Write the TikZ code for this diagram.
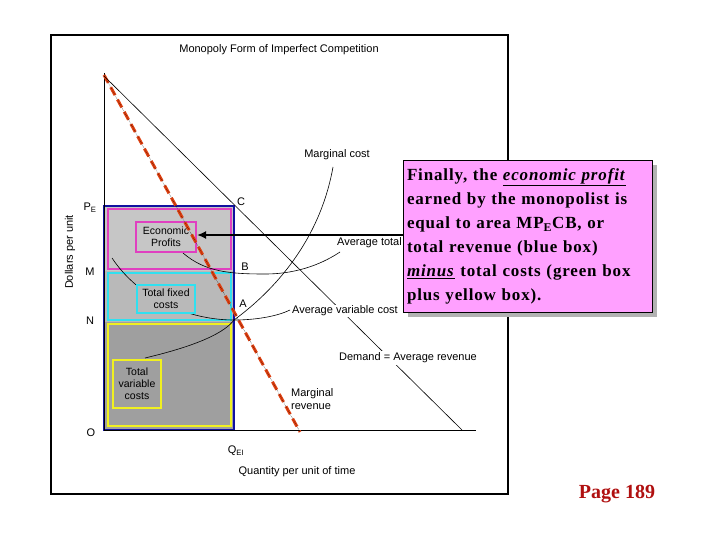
\documentclass[tikz,border=0pt]{standalone}
\usepackage{fontspec}
\setmainfont{Liberation Serif}
\newfontfamily\chartfont{Liberation Sans}
\newfontfamily\callfont[LetterSpace=5]{Liberation Serif}
\usetikzlibrary{arrows.meta}
\definecolor{pinkbox}{HTML}{FFA0FF}
\definecolor{mag}{HTML}{E040C0}
\definecolor{cy}{HTML}{30E0F0}
\definecolor{yel}{HTML}{F0F020}
\definecolor{bl}{HTML}{1010A0}
\definecolor{mr}{HTML}{E04010}
\definecolor{pg}{HTML}{B01010}
\begin{document}
\begin{tikzpicture}[x=1pt,y=-1pt,
  lab/.style={font=\chartfont\fontsize{11}{12.5}\selectfont,inner sep=1pt},
  curve/.style={black,line width=0.6pt},
  tag/.style={font=\chartfont\fontsize{10.5}{12}\selectfont,align=center,line width=2pt,inner sep=0pt}]
\useasboundingbox (0,0) rectangle (720,540);
\fill[white] (0,0) rectangle (720,540);
% frame
\draw[line width=1.8pt] (51,35) rectangle (508,494);
\node[lab] (title) at (279,50) {Monopoly Form of Imperfect Competition};
% areas
\fill[gray!45] (105,206) rectangle (234,271);
\fill[gray!55] (105,271) rectangle (234,322);
\fill[gray!75] (105,322) rectangle (234,429);
\draw[mag,line width=2.2pt] (108,209) rectangle (231,269);
\draw[cy,line width=2.2pt] (108,273) rectangle (231,320);
\draw[yel,line width=2.2pt] (108,324) rectangle (231,426);
\draw[bl,line width=1.8pt] (104,206) rectangle (234,430);
% curves
\draw[curve] (145,358) .. controls (200,345) and (225,332) .. (234,320)
  .. controls (275,290) and (320,240) .. (333,167);
\draw[curve] (183,253) .. controls (205,272) and (230,274) .. (265,274)
  .. controls (300,274) and (325,262) .. (340,252);
\draw[curve] (112,258) .. controls (140,300) and (190,320) .. (234,320)
  .. controls (260,320) and (280,315) .. (290,310);
% label boxes
\node[tag,draw=mag,fill=gray!45,minimum width=60pt,minimum height=30pt] (ep) at (166,237) {Economic\\Profits};
\node[tag,draw=cy,fill=gray!55,minimum width=58pt,minimum height=28pt] (tfc) at (166,299) {Total fixed\\costs};
\node[tag,draw=yel,fill=gray!75,minimum width=48pt,minimum height=48pt] (tvc) at (137,384) {Total\\variable\\costs};
% axes
\coordinate (top) at (104,73);
\coordinate (O) at (104,430);
\coordinate (xend) at (476,430);
\draw[line width=1pt] (top) -- (O) -- (xend);
% MR
\coordinate (mr0) at (104,75);
\coordinate (mr1) at (300,432);
\draw[mr,line width=3pt,dash pattern=on 9pt off 5pt] (mr0) -- (mr1);
\draw[black,line width=0.4pt,densely dotted] (mr0) -- (mr1);
% demand
\coordinate (d0) at (104,76);
\coordinate (d1) at (462,430);
\draw[curve] (d0) -- (d1);
\node[lab,fill=white,inner sep=2pt] (dlab) at (408,358) {Demand = Average revenue};
% labels
\node[lab] (mc) at (337,155) {Marginal cost};
\node[lab,anchor=west] (atc) at (336,243) {Average total};
\node[lab,anchor=west,fill=white] (avc) at (291,311) {Average variable cost};
\node[lab,align=left,anchor=west] (mrl) at (290,399) {Marginal\\revenue};
\node[lab] (PE) at (90,208) {P\textsubscript{E}};
\node[lab] (M) at (90,272) {M};
\node[lab] (N) at (90,321) {N};
\node[lab] (Ol) at (91,433) {O};
\node[lab] (C) at (241,202) {C};
\node[lab] (B) at (245,267) {B};
\node[lab] (A) at (243,304) {A};
\node[lab] (Q) at (236,451) {Q\textsubscript{EI}};
\node[lab,rotate=90] (yl) at (70,252) {Dollars per unit};
\node[lab] (xl) at (297,472) {Quantity per unit of time};
% callout
\fill[gray!60] (408,165) rectangle (657,317);
\node[draw=black,line width=1pt,fill=pinkbox,anchor=north west,minimum width=249pt,minimum height=152pt,
  text width=242pt,align=left,inner sep=3pt,font=\callfont\bfseries\fontsize{17}{24}\selectfont] (call) at (403,160)
  {Finally, the \underline{\textit{economic profit}}\\ earned by the monopolist is\\ equal to area MP\textsubscript{E}CB, or\\ total revenue (blue box)\\ \underline{\textit{minus}} total costs (green box\\ plus yellow box).};
\draw[-{Latex[length=9pt,width=8pt]},line width=2.5pt] (call.west|-0,235) -- (ep.east|-0,235);
\node[font=\bfseries\fontsize{20}{22}\selectfont,text=pg] (page) at (617,494) {Page 189};
\end{tikzpicture}
\end{document}
